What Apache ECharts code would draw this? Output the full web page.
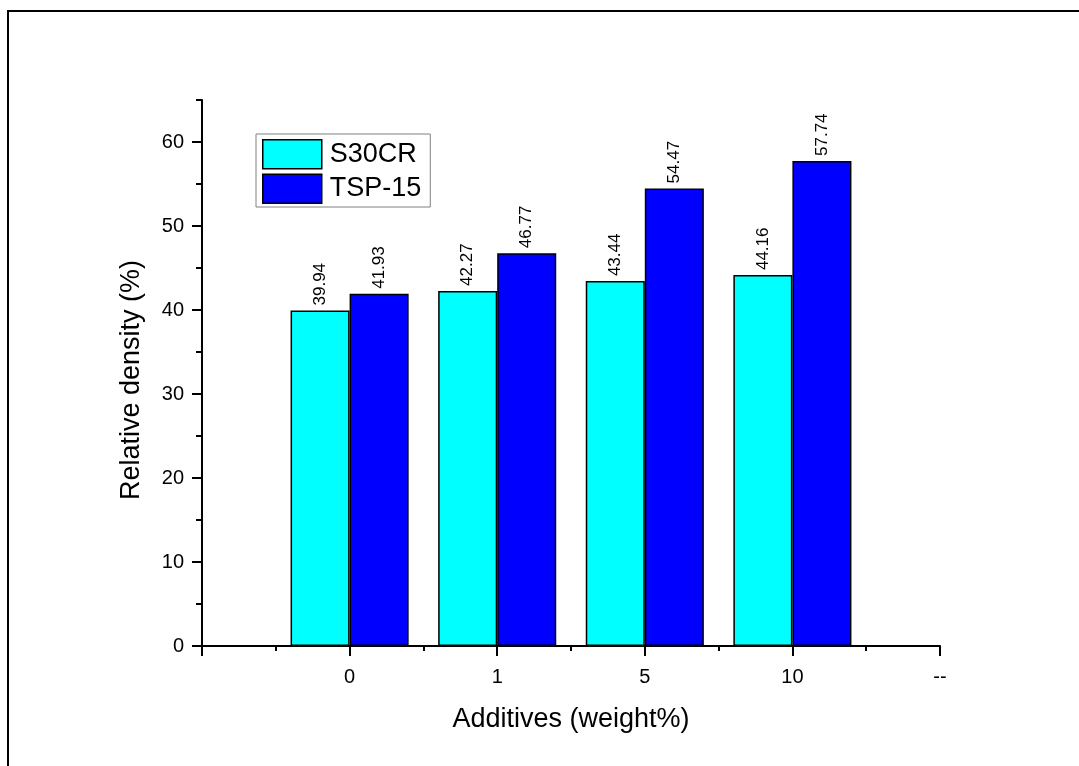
<!DOCTYPE html>
<html>
<head>
<meta charset="utf-8">
<script src="https://cdn.jsdelivr.net/npm/echarts@6/dist/echarts.min.js"></script>
<style>
  html, body { margin: 0; padding: 0; background: #fff; }
  #chart { width: 1079px; height: 766px; }
</style>
</head>
<body>
<div id="chart"></div>
<script>
// Additive content groups (weight%)
const categories = ['0', '1', '5', '10'];
// Axis tick labels: an empty slot before the groups and a trailing "--"
const tickLabels = ['', '0', '1', '5', '10', '--'];
// Relative density (%) for each powder
const s30crValues = [39.94, 42.27, 43.44, 44.16];
const tsp15Values = [41.93, 46.77, 54.47, 57.74];
const seriesNames = ['S30CR', 'TSP-15'];
const yMajorTicks = [0, 10, 20, 30, 40, 50, 60];

// Pad the series so each group sits on its own tick label
function pad(values) {
  const out = tickLabels.map(() => null);
  categories.forEach((c, i) => { out[tickLabels.indexOf(c)] = values[i]; });
  return out;
}

const font = 'Liberation Sans, Arial, Helvetica, sans-serif';
const chart = echarts.init(document.getElementById('chart'));

const barLabel = {
  show: true,
  position: 'top',
  rotate: 90,
  align: 'left',
  verticalAlign: 'middle',
  distance: 5,
  fontFamily: font,
  fontSize: 17,
  color: '#000',
  formatter: p => p.value == null ? '' : Number(p.value).toFixed(2)
};

chart.setOption({
  backgroundColor: '#fff',
  animation: false,
  graphic: [{
    type: 'rect',
    shape: { x: 8, y: 11, width: 2000, height: 2000 },
    style: { fill: 'none', stroke: '#000', lineWidth: 2 },
    silent: true
  }],
  grid: { left: 202, right: 139, top: 100, bottom: 120, containLabel: false },
  legend: {
    orient: 'vertical',
    left: 256,
    top: 134,
    data: seriesNames.map(n => ({ name: n, icon: 'rect' })),
    itemWidth: 59,
    itemHeight: 29,
    itemGap: 4,
    padding: [5, 9, 3, 6],
    borderColor: '#808080',
    borderWidth: 1,
    backgroundColor: '#fff',
    itemStyle: { borderColor: '#000', borderWidth: 1.5 },
    textStyle: { fontFamily: font, fontSize: 27, color: '#000', padding: [0, 0, 0, 3] }
  },
  xAxis: [{
    type: 'category',
    data: tickLabels,
    boundaryGap: false,
    name: 'Additives (weight%)',
    nameLocation: 'middle',
    nameGap: 60,
    nameTextStyle: { fontFamily: font, fontSize: 27, color: '#000' },
    axisLine: { lineStyle: { color: '#000', width: 2 } },
    axisTick: { alignWithLabel: true, interval: 0, length: 10, lineStyle: { color: '#000', width: 2 } },
    axisLabel: { interval: 0, margin: 21, fontFamily: font, fontSize: 20, color: '#000' },
    splitLine: { show: false }
  }, {
    // minor ticks halfway between the labelled positions
    type: 'value',
    position: 'bottom',
    min: 0,
    max: tickLabels.length - 1,
    interval: 0.5,
    axisLine: { show: false },
    axisTick: { show: true, length: 5, lineStyle: { color: '#000', width: 2 } },
    axisLabel: { show: false },
    splitLine: { show: false }
  }],
  yAxis: [{
    type: 'value',
    min: 0,
    max: 65,
    interval: 5,
    name: 'Relative density (%)',
    nameLocation: 'middle',
    nameGap: 57,
    nameTextStyle: { fontFamily: font, fontSize: 27, color: '#000', padding: [0, 14, 0, 0] },
    axisLine: { show: true, lineStyle: { color: '#000', width: 2 } },
    axisTick: { show: true, length: 6, lineStyle: { color: '#000', width: 2 } },
    axisLabel: {
      margin: 18, fontFamily: font, fontSize: 20, color: '#000',
      formatter: v => (v % 10 === 0 ? String(v) : '')
    },
    splitLine: { show: false }
  }, {
    // longer major ticks every 10 %
    type: 'value',
    position: 'left',
    min: 0,
    max: 65,
    interval: 5,
    axisLine: { show: false },
    axisTick: { show: true, length: 10, customValues: yMajorTicks, lineStyle: { color: '#000', width: 2 } },
    axisLabel: { show: false },
    splitLine: { show: false }
  }],
  series: [{
    name: seriesNames[0],
    type: 'bar',
    data: pad(s30crValues),
    barGap: '0%',
    barCategoryGap: '20%',
    itemStyle: { color: '#00FFFF', borderColor: '#000', borderWidth: 1.5 },
    label: barLabel
  }, {
    name: seriesNames[1],
    type: 'bar',
    data: pad(tsp15Values),
    barGap: '0%',
    barCategoryGap: '20%',
    itemStyle: { color: '#0000FF', borderColor: '#000', borderWidth: 1.5 },
    label: barLabel
  }]
});
</script>
</body>
</html>
